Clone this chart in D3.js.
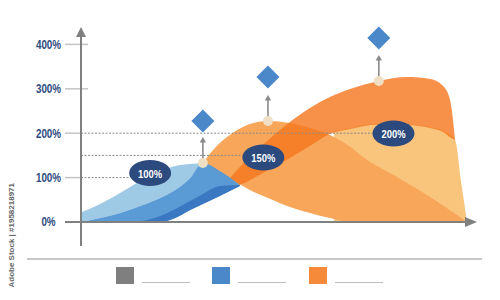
<!DOCTYPE html>
<html>
<head>
<meta charset="utf-8">
<script src="https://cdn.jsdelivr.net/npm/d3@7/dist/d3.min.js"></script>
<style>
html,body{margin:0;padding:0;background:#fff;}
svg{display:block;}
text{font-family:"Liberation Sans",Arial,sans-serif;font-weight:bold;}
</style>
</head>
<body>
<svg id="chart" width="500" height="300"></svg>
<script>
// ---- data (x in position units 0..100, y in %) ----
const yTicks = [0, 100, 200, 300, 400];
const yTickLabels = ["0%", "100%", "200%", "300%", "400%"];

const blueX      = [0, 4.7, 9.9, 15.1, 20.3, 24.2, 28.1, 31.4, 35.8, 41.0];
const lightTop   = [22.5, 40.5, 65.3, 92.3, 114.9, 126.1, 130.6, 132.9];
const blueTop    = [0, 9, 20.3, 36, 54, 72, 99, 132.9, 114.9, 83.3];
const darkTop    = [0, 0, 1.1, 2.3, 13.5, 29.3, 47.3, 63, 81, 83.3];
const blueBottom = [0, 0, 0, 0, 0, 9, 27, 40.5, 58.6, 81];

const midX      = [31.4, 34.5, 38.4, 43.6, 48.3, 54, 59.2, 64.4, 69.6, 73, 81.8, 90.4, 100];
const midTop    = [132.9, 166.7, 196, 220.7, 227.5, 223, 211.7, 196, 170, 146.4, 101.4, 56.3, 0];
const midBottom = [132.9, 117.1, 99.1, 72.1, 54.1, 33.8, 20.3, 9, 0, 0, 0, 0, 0];

const paleX   = [65.5, 69.6, 75.6, 81.3, 86, 90.4, 93.8, 96.9, 98.4, 100];
const paleTop = [203, 211.7, 220.7, 221.8, 218.5, 214, 205, 184.7, 94.6, 0];

const bigX      = [37.1, 41, 47.5, 54, 59.2, 64.4, 69.6, 77.1, 84.4, 90.4, 93.8, 95.6, 96.9];
const bigTop    = [85.6, 123.9, 177.9, 225.2, 256.8, 281.5, 299.5, 317.6, 326.6, 322.1, 306.3, 274.8, 184.7];
const bigBottom = [72.1, 83.3, 112.6, 144.1, 171.2, 198.2, 209.5, 219.6, 218.5, 211.7, 202.7, 191, 184.7];

const markerX       = [31.4, 48.3, 77.1];
const markerValue   = [132.9, 227.5, 317.6];
const arrowTipValue = [191.4, 286, 376];
const diamondValue  = [227.5, 326.6, 414.4];

const badgeLabels = ["100%", "150%", "200%"];
const badgeX      = [17.7, 47.1, 80.9];
const badgeValue  = [110.4, 145.3, 199.3];
const guideValues = [100, 150, 200];

const legendColors = ["#7f7f7f", "#4a88c9", "#f58a3a"];

// ---- scales ----
const svg = d3.select("#chart");
const x = d3.scaleLinear().domain([0, 100]).range([82, 467]);
const y = d3.scaleLinear().domain([0, 400]).range([222, 44.4]);

const zip = (xs, ts, bs) => xs.map((v, i) => ({x: v, t: ts[i], b: bs[i]}));
const area = d3.area().x(d => x(d.x)).y0(d => y(d.b)).y1(d => y(d.t)).curve(d3.curveMonotoneX);

const g = svg.append("g");
// pale orange
g.append("path").datum(zip(paleX, paleTop, paleX.map(() => 0))).attr("d", area).attr("fill", "#f9c47c");
// mid orange hump
g.append("path").datum(zip(midX, midTop, midBottom)).attr("d", area).attr("fill", "#f8a75a");
// big orange ribbon
g.append("path").datum(zip(bigX, bigTop, bigBottom)).attr("d", area).attr("fill", "#f57820").attr("fill-opacity", 0.82);
// light blue
g.append("path").datum(zip(blueX.slice(0, 8), lightTop, blueTop.slice(0, 8))).attr("d", area).attr("fill", "#9ecae6");
// blue
g.append("path").datum(zip(blueX, blueTop, blueBottom)).attr("d", area).attr("fill", "#5b9bd5");
// dark blue band
g.append("path").datum(zip(blueX, darkTop, blueBottom)).attr("d", area).attr("fill", "#3a78c2");

// ---- tick lines and guides ----
const axisX = x(0) - 1;
yTicks.filter(v => v > 0).forEach(v => {
  svg.append("line").attr("x1", 65).attr("x2", v >= 300 ? 88 : axisX).attr("y1", y(v)).attr("y2", y(v))
    .attr("stroke", "#c4c4c4").attr("stroke-width", 1.5);
});
const rx = 21, ry = 13;
guideValues.forEach((v, i) => {
  svg.append("line").attr("x1", axisX).attr("x2", x(badgeX[i]) - rx).attr("y1", y(v)).attr("y2", y(v))
    .attr("stroke", "#8a8a8a").attr("stroke-width", 1).attr("stroke-dasharray", "2,1.5");
});

// ---- axes ----
const axisColor = "#808080";
svg.append("line").attr("x1", axisX).attr("x2", axisX).attr("y1", 36).attr("y2", 246)
  .attr("stroke", axisColor).attr("stroke-width", 2);
svg.append("path").attr("d", `M${axisX - 5},37 L${axisX + 5},37 L${axisX},27 Z`).attr("fill", axisColor);
svg.append("line").attr("x1", 65).attr("x2", 467).attr("y1", y(0)).attr("y2", y(0))
  .attr("stroke", axisColor).attr("stroke-width", 2);
svg.append("path").attr("d", `M465,${y(0) - 5} L465,${y(0) + 5} L477,${y(0)} Z`).attr("fill", axisColor);

// tick labels
yTicks.forEach((v, i) => {
  svg.append("text").attr("transform", `translate(48.5,${y(v)}) scale(0.82,1)`)
    .attr("text-anchor", "middle").attr("dominant-baseline", "central")
    .attr("font-size", 12).attr("fill", "#2d4b7e").text(yTickLabels[i]);
});

// ---- markers ----
markerX.forEach((mx, i) => {
  const px = x(mx), dotY = y(markerValue[i]), tipY = y(arrowTipValue[i]);
  svg.append("line").attr("x1", px).attr("x2", px).attr("y1", dotY - 4).attr("y2", tipY + 5)
    .attr("stroke", "#8a8a8a").attr("stroke-width", 1.6);
  svg.append("path").attr("d", `M${px - 3.2},${tipY + 5.5} L${px + 3.2},${tipY + 5.5} L${px},${tipY} Z`).attr("fill", "#8a8a8a");
  svg.append("circle").attr("cx", px).attr("cy", dotY).attr("r", 5).attr("fill", "#efdfc4");
  const dy = y(diamondValue[i]), s = 11.5;
  svg.append("path").attr("d", `M${px},${dy - s} L${px + s},${dy} L${px},${dy + s} L${px - s},${dy} Z`).attr("fill", "#4a88c9");
});

// ---- badges ----
badgeLabels.forEach((lab, i) => {
  const cx = x(badgeX[i]), cy = y(badgeValue[i]);
  svg.append("ellipse").attr("cx", cx).attr("cy", cy).attr("rx", rx).attr("ry", ry).attr("fill", "#2c4a7e");
  svg.append("text").attr("transform", `translate(${cx},${cy + 0.5}) scale(0.82,1)`)
    .attr("text-anchor", "middle").attr("dominant-baseline", "central")
    .attr("font-size", 11.5).attr("fill", "#ffffff").text(lab);
});

// ---- bottom separator + legend ----
svg.append("line").attr("x1", 27).attr("x2", 482).attr("y1", 259).attr("y2", 259)
  .attr("stroke", "#b4b4b4").attr("stroke-width", 1.5);
const legendStart = [116, 212, 309];
legendColors.forEach((c, i) => {
  svg.append("rect").attr("x", legendStart[i]).attr("y", 267).attr("width", 18).attr("height", 17).attr("fill", c);
  svg.append("line").attr("x1", legendStart[i] + 26).attr("x2", legendStart[i] + 74).attr("y1", 282.5).attr("y2", 282.5)
    .attr("stroke", "#bdbdbd").attr("stroke-width", 1);
});

// ---- stock id text ----
svg.append("text").attr("transform", "translate(14,183) rotate(-90)").attr("text-anchor", "end")
  .attr("font-size", 8).attr("font-weight", "normal").attr("fill", "#666").text("Adobe Stock | #1958218971");
</script>
</body>
</html>
